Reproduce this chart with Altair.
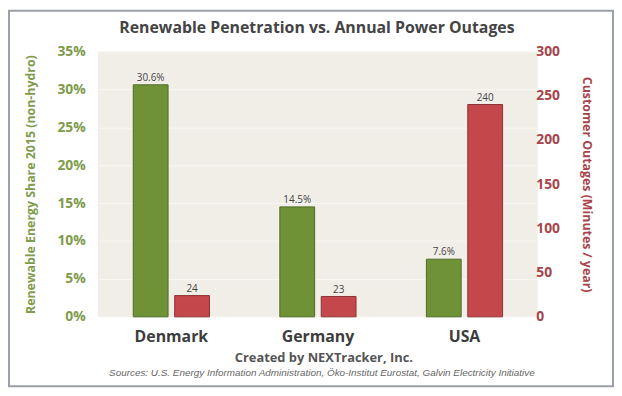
import altair as alt
import pandas as pd

countries = ["Denmark", "Germany", "USA"]
share_pct = [30.6, 14.5, 7.6]
outage_min = [24, 23, 240]
share_labels = ["30.6%", "14.5%", "7.6%"]
outage_labels = ["24", "23", "240"]

rows = []
for c, v, l in zip(countries, share_pct, share_labels):
    rows.append({"country": c, "series": "a_share", "value": v / 100, "label": l})
for c, v, l in zip(countries, outage_min, outage_labels):
    rows.append({"country": c, "series": "b_outage", "value": v, "label": l})
df = pd.DataFrame(rows)

GREEN = "#6f9237"
GREEN_DARK = "#4e6a26"
GREEN_TXT = "#7f9b4c"
RED = "#c4474b"
RED_DARK = "#8c3135"
RED_TXT = "#a7454a"
FONT = "Open Sans"

W, H = 444, 268
PL, PT, PR, PB = 91, 42, 77, 70

x_enc = alt.X("country:N", sort=countries, title=None,
              scale=alt.Scale(paddingInner=0.48, paddingOuter=0.24),
              axis=alt.Axis(labelFont=FONT, labelFontWeight="bold", labelFontSize=16,
                            labelColor="#3d3d3d", ticks=False, domain=False,
                            labelPadding=12, labelAngle=0))
xo = alt.XOffset("series:N", scale=alt.Scale(paddingInner=0.16))

base = alt.Chart(df)

y_left = alt.Y("value:Q", scale=alt.Scale(domain=[0, 0.35]),
               axis=alt.Axis(format=".0%", values=[0, .05, .1, .15, .2, .25, .3, .35],
                             title="Renewable Energy Share 2015 (non-hydro)",
                             titleColor=GREEN_TXT, titleFont=FONT, titleFontSize=12.5,
                             titleFontWeight="bold", titlePadding=20,
                             labelColor=GREEN_TXT, labelFont=FONT, labelFontSize=14,
                             labelFontWeight="bold", labelPadding=13,
                             ticks=False, domain=False, grid=True,
                             gridColor="#f8f7f3", gridWidth=1))
share = base.transform_filter(alt.datum.series == "a_share").encode(
    x=x_enc, xOffset=xo, y=y_left)
left = alt.layer(
    share.mark_bar(color=GREEN, stroke=GREEN_DARK, strokeWidth=1),
    share.mark_text(dy=-7, font=FONT, fontSize=10, color="#444").encode(text="label:N"),
)

y_right = alt.Y("value:Q", scale=alt.Scale(domain=[0, 300]),
                axis=alt.Axis(orient="right", values=[0, 50, 100, 150, 200, 250, 300],
                              title="Customer Outages (Minutes / year)",
                              titleColor=RED_TXT, titleFont=FONT, titleFontSize=12.5,
                              titleFontWeight="bold", titlePadding=20,
                              labelColor=RED_TXT, labelFont=FONT, labelFontSize=14,
                              labelFontWeight="bold", labelPadding=-2,
                              ticks=False, domain=False, grid=False))
out = base.transform_filter(alt.datum.series == "b_outage").encode(
    x=x_enc, xOffset=xo, y=y_right)
right = alt.layer(
    out.mark_bar(color=RED, stroke=RED_DARK, strokeWidth=1),
    out.mark_text(dy=-7, font=FONT, fontSize=10, color="#444").encode(text="label:N"),
)

notes = pd.DataFrame({"t": [0]})
title = alt.Chart(notes).mark_text(font=FONT, fontSize=16, color="#444",
                                   fontWeight="bold").encode(
    x=alt.value(W / 2 - 1), y=alt.value(-PT + 18),
    text=alt.value("Renewable Penetration vs. Annual Power Outages"))
created = alt.Chart(notes).mark_text(font=FONT, fontSize=13, color="#555",
                                     fontWeight="bold").encode(
    x=alt.value(W / 2 + 6), y=alt.value(H + 42),
    text=alt.value("Created by NEXTracker, Inc."))
sources = alt.Chart(notes).mark_text(font="Liberation Sans", fontSize=10, color="#666",
                                     fontStyle="italic").encode(
    x=alt.value(W / 2 + 4), y=alt.value(H + 57),
    text=alt.value("Sources: U.S. Energy Information Administration,  Öko-Institut Eurostat, Galvin Electricity Initiative"))
frame = alt.Chart(notes).mark_rect(fill=None, stroke="#9aa0a8", strokeWidth=2).encode(
    x=alt.value(-PL + 1), x2=alt.value(W + PR - 1), y=alt.value(-PT + 1), y2=alt.value(H + PB))

chart = alt.layer(left, right, title, created, sources, frame).resolve_scale(
    y="independent").properties(
    width=W, height=H,
    autosize=alt.AutoSizeParams(type="none"),
    padding={"left": PL, "top": PT, "right": PR, "bottom": PB},
    background="white",
).configure_view(fill="#f1eee8", stroke=None)

chart.save("out.html", embed_options={"renderer": "svg", "actions": False})
